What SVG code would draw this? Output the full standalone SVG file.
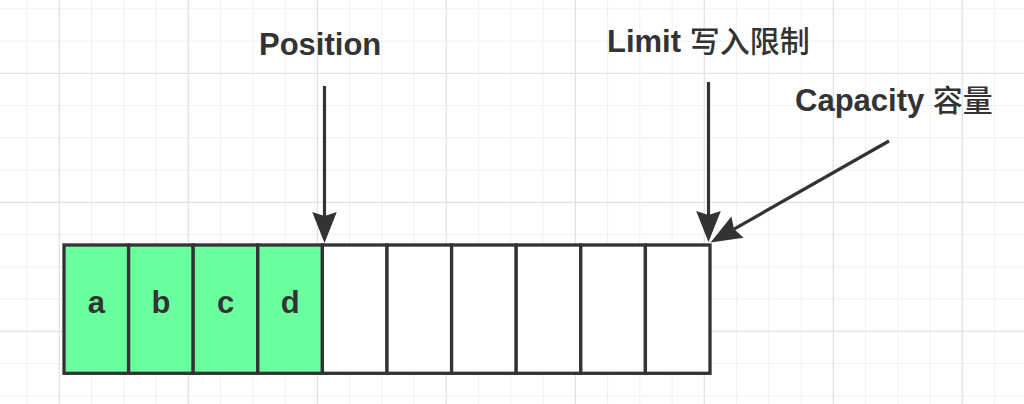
<svg xmlns="http://www.w3.org/2000/svg" width="1024" height="404" viewBox="0 0 1024 404">
<style>
.gmin{stroke:#f0f0f0;stroke-width:1;fill:none}
.gmaj{stroke:#e3e3e3;stroke-width:1.3;fill:none}
.cell{stroke:#333;stroke-width:3.3}
.full{fill:#6aff9f}
.empty{fill:#fff}
.lbl{font-family:"Liberation Sans","Noto Sans CJK SC",sans-serif;font-size:31px;font-weight:bold;fill:#333}
.cj{font-family:"Noto Sans CJK SC",sans-serif;font-weight:500;font-size:30px}
.cl{font-family:"Liberation Sans",sans-serif;font-size:31px;font-weight:bold;fill:#333;text-anchor:middle}
.conn{stroke:#333;stroke-width:3.2;fill:none}
</style>
<defs>
<marker id="arr" viewBox="-5 -14 34 28" markerWidth="34" markerHeight="28" refX="0" refY="0" orient="auto" markerUnits="userSpaceOnUse">
<path d="M27,0 L-4,-12.3 L0,0 L-4,12.3 Z" fill="#333"/>
</marker>
</defs>
<rect width="1024" height="404" fill="#fff"/>
<g id="grid">
<path class="gmin" d="M27.1,0V404M91.6,0V404M123.8,0V404M156.1,0V404M220.6,0V404M252.8,0V404M285.1,0V404M349.6,0V404M381.8,0V404M414.1,0V404M478.6,0V404M510.8,0V404M543.1,0V404M607.6,0V404M639.8,0V404M672.1,0V404M736.6,0V404M768.8,0V404M801.1,0V404M865.6,0V404M897.8,0V404M930.1,0V404M994.6,0V404M0,8.8H1024M0,41.1H1024M0,105.6H1024M0,137.8H1024M0,170.1H1024M0,234.6H1024M0,266.8H1024M0,299.1H1024M0,363.6H1024M0,395.8H1024"/>
<path class="gmaj" d="M59.3,0V404M188.3,0V404M317.3,0V404M446.3,0V404M575.3,0V404M704.3,0V404M833.3,0V404M962.3,0V404M0,73.3H1024M0,202.3H1024M0,331.3H1024"/>
</g>
<g id="cell-a"><rect class="cell full" x="64" y="245" width="64.6" height="128.3"/><text class="cl" x="96.3" y="313">a</text></g>
<g id="cell-b"><rect class="cell full" x="128.6" y="245" width="64.6" height="128.3"/><text class="cl" x="160.9" y="313">b</text></g>
<g id="cell-c"><rect class="cell full" x="193.2" y="245" width="64.6" height="128.3"/><text class="cl" x="225.5" y="313">c</text></g>
<g id="cell-d"><rect class="cell full" x="257.8" y="245" width="64.6" height="128.3"/><text class="cl" x="290.1" y="313">d</text></g>
<g id="cell-5"><rect class="cell empty" x="322.4" y="245" width="64.6" height="128.3"/></g>
<g id="cell-6"><rect class="cell empty" x="387" y="245" width="64.6" height="128.3"/></g>
<g id="cell-7"><rect class="cell empty" x="451.6" y="245" width="64.6" height="128.3"/></g>
<g id="cell-8"><rect class="cell empty" x="516.2" y="245" width="64.6" height="128.3"/></g>
<g id="cell-9"><rect class="cell empty" x="580.8" y="245" width="64.6" height="128.3"/></g>
<g id="cell-10"><rect class="cell empty" x="645.4" y="245" width="64.6" height="128.3"/></g>
<g id="label-position"><text class="lbl" x="259" y="55">Position</text></g>
<g id="label-limit"><text class="lbl" x="607" y="52">Limit <tspan class="cj">写入限制</tspan></text></g>
<g id="label-capacity"><text class="lbl" x="795" y="111">Capacity <tspan class="cj">容量</tspan></text></g>
<g id="connectors">
<path class="conn" d="M324.5,86 L324.5,216" marker-end="url(#arr)"/>
<path class="conn" d="M708.5,82 L708.5,215" marker-end="url(#arr)"/>
<path class="conn" d="M889,141 L734,229.1" marker-end="url(#arr)"/>
</g>
</svg>
